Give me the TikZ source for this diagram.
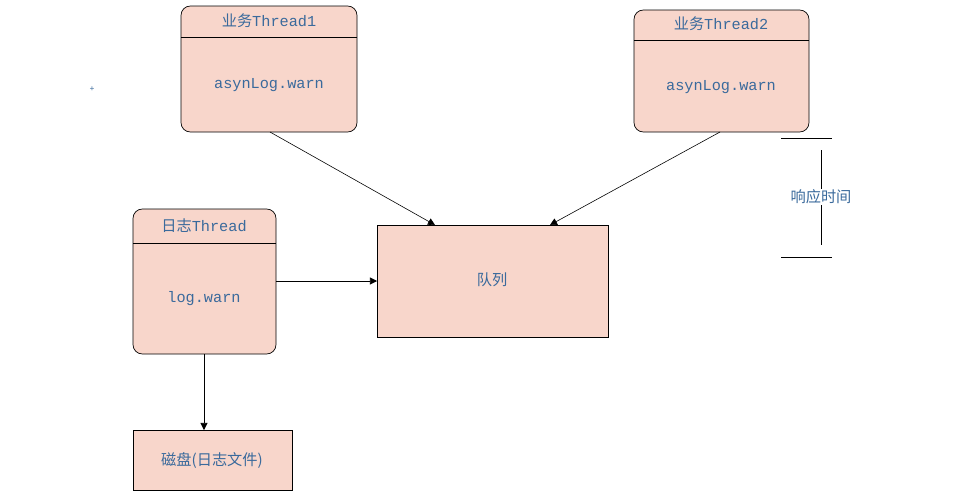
\documentclass[tikz,border=0pt]{standalone}
\usepackage{fontspec}
\setmainfont{Liberation Mono}
\newfontfamily\cjk{Noto Sans CJK SC}
\usetikzlibrary{arrows.meta}
\definecolor{fillc}{HTML}{F8D6CB}
\definecolor{txt}{HTML}{3A6A9C}
\begin{document}
\begin{tikzpicture}[x=0.03cm,y=-0.03cm,
  box/.style={draw,fill=fillc,line width=0.6pt},
  rbox/.style={box,rounded corners=8pt},
  lbl/.style={text=txt,font=\fontsize{13}{15}\selectfont,inner sep=0pt},
  arr/.style={-{Triangle[length=6pt,width=6pt]},line width=0.5pt}]
\useasboundingbox (0,0) rectangle (976,500);
% thread 1
\draw[rbox] (181,6) rectangle (357,132);
\draw (181,37) -- (357,37);
\node[lbl] (t1h) at (269,21) {{\cjk 业务}Thread1};
\node[lbl] (t1b) at (269,85) {asynLog.warn};
\coordinate (t1) at (270,132);
% thread 2
\draw[rbox] (634,10) rectangle (809,132);
\draw (634,40) -- (809,40);
\node[lbl] (t2h) at (721,24) {{\cjk 业务}Thread2};
\node[lbl] (t2b) at (721,87) {asynLog.warn};
\coordinate (t2) at (720,132);
% log thread
\draw[rbox] (133,209) rectangle (276,354);
\draw (133,243) -- (276,243);
\node[lbl] (lh) at (204,226) {{\cjk 日志}Thread};
\node[lbl] (lb) at (204,299) {log.warn};
\coordinate (lr) at (276,281);
\coordinate (ld) at (204,354);
% queue
\node[box,minimum width=231\pgflinewidth,inner sep=0pt] (q) at (492.5,281) {};
\draw[box] (377,225) rectangle (608,337);
\node[lbl] at (492,280) {\cjk 队列};
\coordinate (qa) at (435,225);
\coordinate (qb) at (550,225);
\coordinate (ql) at (377,281);
% disk
\draw[box] (133,430) rectangle (292,490);
\node[lbl] (disk) at (212,461) {\cjk 磁盘(日志文件)};
\coordinate (dt) at (204,430);
% arrows
\draw[arr] (t1) -- (qa);
\draw[arr] (t2) -- (qb);
\draw[arr] (lr) -- (ql);
\draw[arr] (ld) -- (dt);
% response time
\draw[line width=0.6pt] (781,138) -- (832,138);
\draw[line width=0.6pt] (781,257) -- (832,257);
\draw[line width=0.6pt] (821,150) -- (821,245);
\node[lbl,fill=white,inner sep=1pt] at (821,197) {\cjk 响应时间};
\node[text=txt,font=\scriptsize,inner sep=0pt] at (92,89) {+};
\end{tikzpicture}
\end{document}
